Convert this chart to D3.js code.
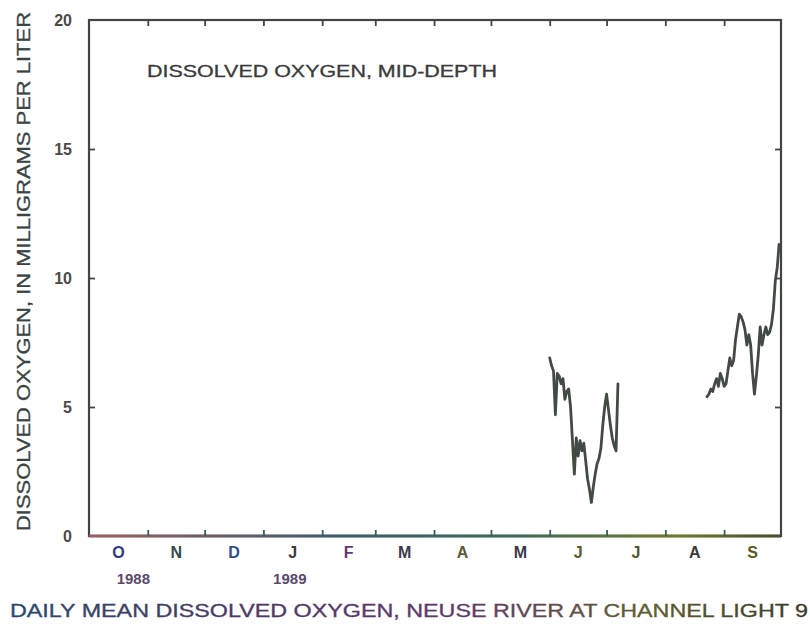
<!DOCTYPE html>
<html>
<head>
<meta charset="utf-8">
<script src="https://cdn.jsdelivr.net/npm/d3@7"></script>
<style>
  html, body { margin: 0; padding: 0; background: #ffffff; }
  svg { display: block; }
</style>
</head>
<body>
<script>
// ---------------- data ----------------
const monthLabels = ["O", "N", "D", "J", "F", "M", "A", "M", "J", "J", "A", "S"];
const yearLabels = ["1988", "1989"];
const yearLabelMonthIndex = [0, 3];
const yTickValues = [0, 5, 10, 15, 20];

// daily mean dissolved oxygen, mg/L
const seg1Start = "1989-06-01";
const seg1Values = [6.9, 6.6, 6.4, 4.7, 6.3, 6.2, 5.9, 6.1, 5.3, 5.6,
                    5.7, 5.0, 3.7, 2.4, 3.8, 3.1, 3.7, 3.3, 3.6, 2.9,
                    2.2, 1.8, 1.3, 1.9, 2.4, 2.8, 3.0, 3.4, 4.3, 5.0,
                    5.5, 4.9, 4.3, 3.8, 3.5, 3.3, 5.9];
const seg2Start = "1989-08-23";
const seg2Values = [5.4, 5.5, 5.7, 5.6, 5.9, 6.1, 5.8, 6.3, 6.1, 5.8,
                    5.9, 6.4, 6.9, 6.6, 6.8, 7.6, 8.1, 8.6, 8.5, 8.3,
                    8.0, 7.4, 7.8, 7.4, 6.3, 5.5, 6.2, 7.0, 8.1, 7.4,
                    7.8, 8.1, 7.8, 7.9, 8.2, 8.8, 9.9, 10.4, 11.3];

const titleText = "DISSOLVED OXYGEN, MID-DEPTH";
const yAxisTitle = "DISSOLVED OXYGEN, IN MILLIGRAMS PER LITER";
const captionText = "DAILY MEAN DISSOLVED OXYGEN, NEUSE RIVER AT CHANNEL LIGHT 9";

// ---------------- layout ----------------
const W = 810, H = 624;
const X0 = 89, X1 = 781, Y0 = 536, Y1 = 20;
const parse = d3.timeParse("%Y-%m-%d");
const startDate = parse("1988-10-01"), endDate = parse("1989-10-01");

const x = d3.scaleTime().domain([startDate, endDate]).range([X0, X1]);
const y = d3.scaleLinear().domain([0, 20]).range([Y0, Y1]);

const svg = d3.select("body").append("svg").attr("width", W).attr("height", H);

const defs = svg.append("defs");
const gAxis = defs.append("linearGradient").attr("id", "axisGrad")
  .attr("gradientUnits", "userSpaceOnUse").attr("x1", X0).attr("x2", X1).attr("y1", 0).attr("y2", 0);
[["0%", "#9a6060"], ["35%", "#3f5a6a"], ["60%", "#3a6a5a"], ["85%", "#6f7a2a"], ["100%", "#4a4a30"]]
  .forEach(s => gAxis.append("stop").attr("offset", s[0]).attr("stop-color", s[1]));
const gCap = defs.append("linearGradient").attr("id", "capGrad")
  .attr("gradientUnits", "userSpaceOnUse").attr("x1", 10).attr("x2", 808).attr("y1", 0).attr("y2", 0);
[["0%", "#2a4a6a"], ["30%", "#4a3a60"], ["55%", "#5e3a6a"], ["80%", "#5e5e30"], ["100%", "#3a3a2a"]]
  .forEach(s => gCap.append("stop").attr("offset", s[0]).attr("stop-color", s[1]));

const font = "'Liberation Sans', Arial, sans-serif";
const ink = "#3a3a3a";

// month boundaries (for ticks) and mid-months (for labels)
const monthStarts = d3.timeMonth.range(startDate, endDate);
const innerMonthTicks = monthStarts.slice(1);
const midMonths = monthStarts.map(m => new Date((+m + +d3.timeMonth.offset(m, 1)) / 2));

// frame
svg.append("rect").attr("x", X0).attr("y", Y1).attr("width", X1 - X0).attr("height", Y0 - Y1)
  .attr("fill", "none").attr("stroke", "#444").attr("stroke-width", 2.2);
// bottom line, colored like the scan
svg.append("line").attr("x1", X0).attr("x2", X1).attr("y1", Y0).attr("y2", Y0)
  .attr("stroke", "url(#axisGrad)").attr("stroke-width", 2.8);

// axes (ticks inward, labels drawn separately for months)
const bottomAxis = d3.axisBottom(x).tickValues(innerMonthTicks).tickSize(-6).tickFormat("");
const topAxis = d3.axisTop(x).tickValues(innerMonthTicks).tickSize(-6).tickFormat("");
const leftAxis = d3.axisLeft(y).tickValues(yTickValues).tickSize(-6).tickPadding(13).tickFormat(d3.format("d"));
const rightAxis = d3.axisRight(y).tickValues(yTickValues.filter(v => v > 0 && v < 20)).tickSize(-6).tickFormat("");

function styleAxis(g, color) {
  g.select(".domain").remove();
  g.selectAll(".tick line").attr("stroke", color).attr("stroke-width", 1.8);
}
svg.append("g").attr("transform", `translate(0,${Y0})`).call(bottomAxis).call(g => styleAxis(g, "#3f5a5a"));
svg.append("g").attr("transform", `translate(0,${Y1})`).call(topAxis).call(g => styleAxis(g, "#444"));
svg.append("g").attr("transform", `translate(${X1},0)`).call(rightAxis).call(g => styleAxis(g, "#444"));
svg.append("g").attr("transform", `translate(${X0},0)`).call(leftAxis).call(g => {
  styleAxis(g, "#444");
  g.selectAll(".tick")
    .filter(d => d === 0 || d === 20).select("line").remove();
  g.selectAll(".tick text").attr("font-family", font).attr("font-size", 16)
    .attr("font-weight", "bold").attr("fill", "#4a4a4a").attr("dx", "-4");
});

// month labels
const monthColors = ["#2e3a86", "#334a4a", "#2f4f8a", "#3a3a3a", "#5a3a7a", "#3a3a4a",
                     "#5a5a3a", "#3a3a4a", "#5a5a2a", "#4a5a2a", "#3a3a3a", "#5a5a20"];
svg.append("g").selectAll("text").data(midMonths).join("text")
  .attr("x", d => x(d)).attr("y", 558)
  .attr("text-anchor", "middle").attr("font-family", font).attr("font-size", 16).attr("font-weight", "bold")
  .attr("fill", (d, i) => monthColors[i])
  .text((d, i) => monthLabels[i]);

// year labels
const yearOffsets = [15, -3];
svg.append("g").selectAll("text").data(yearLabels).join("text")
  .attr("x", (d, i) => x(midMonths[yearLabelMonthIndex[i]]) + yearOffsets[i]).attr("y", 584)
  .attr("text-anchor", "middle").attr("font-family", font).attr("font-size", 15).attr("font-weight", "bold")
  .attr("fill", "#5a4a6a")
  .text(d => d);

// series
const line = d3.line().x(d => x(d.date)).y(d => y(d.value));
function series(start, values) {
  const s = parse(start);
  return values.map((v, i) => ({ date: d3.timeDay.offset(s, i), value: v }));
}
[series(seg1Start, seg1Values), series(seg2Start, seg2Values)].forEach(seg => {
  svg.append("path").datum(seg).attr("d", line)
    .attr("fill", "none").attr("stroke", "#434a43").attr("stroke-width", 2.8)
    .attr("stroke-linejoin", "round").attr("stroke-linecap", "round");
});

// in-plot title
svg.append("text").attr("x", 147).attr("y", 77).attr("font-family", font).attr("font-size", 17)
  .attr("fill", ink).attr("stroke", ink).attr("stroke-width", 0.3)
  .attr("textLength", 350).attr("lengthAdjust", "spacingAndGlyphs").text(titleText);

// y-axis title
svg.append("text").attr("transform", "translate(30,531) rotate(-90)")
  .attr("font-family", font).attr("font-size", 18).attr("fill", "#3a4444")
  .attr("stroke", "#3a4444").attr("stroke-width", 0.3)
  .attr("textLength", 519).attr("lengthAdjust", "spacingAndGlyphs").text(yAxisTitle);

// caption
svg.append("text").attr("x", 10).attr("y", 617).attr("font-family", font).attr("font-size", 18)
  .attr("fill", "url(#capGrad)").attr("stroke", "url(#capGrad)").attr("stroke-width", 0.3)
  .attr("textLength", 798).attr("lengthAdjust", "spacingAndGlyphs").text(captionText);
</script>
</body>
</html>
